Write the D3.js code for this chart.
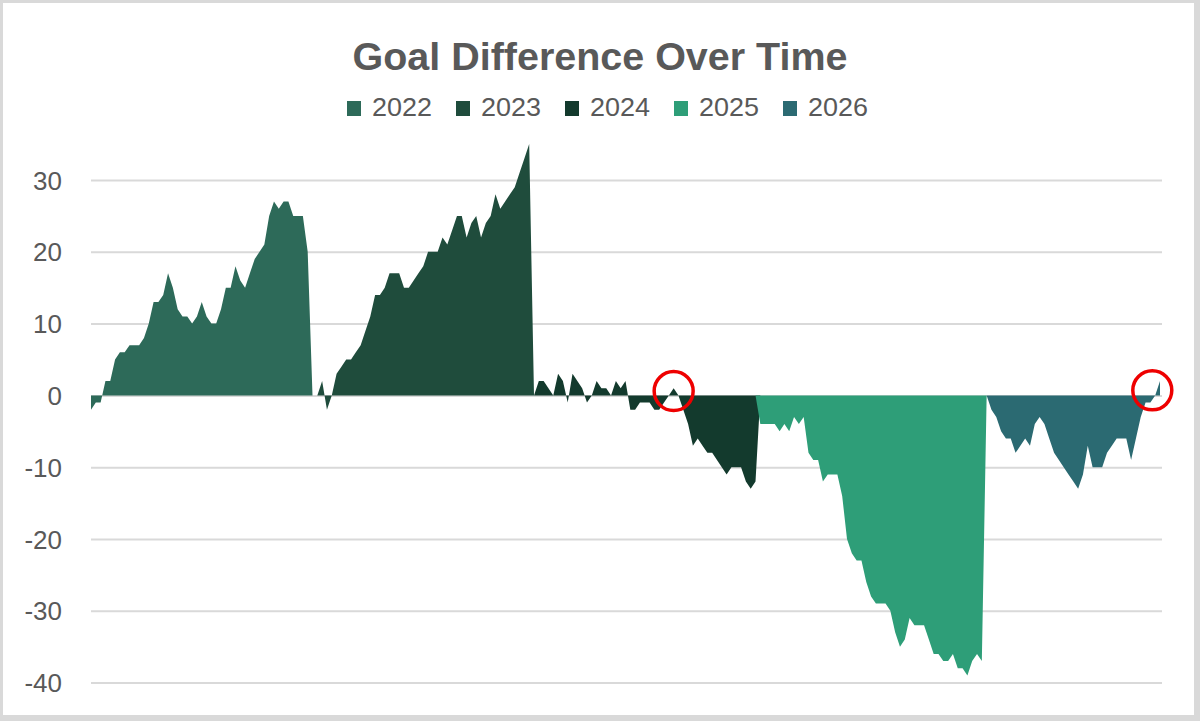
<!DOCTYPE html>
<html>
<head>
<meta charset="utf-8">
<title>Goal Difference Over Time</title>
<script src="https://cdn.jsdelivr.net/npm/d3@7"></script>
<style>
    body { margin: 0; background: #ffffff; }
    svg { display: block; }
    .axis text { font-family: "Liberation Sans", Arial, sans-serif; font-size: 26px; fill: #595959; }
    .axis line { stroke: #d9d9d9; stroke-width: 2; }
</style>
</head>
<body>
<div id="chart"></div>
<script>
// cumulative goal difference, one value per match, season by season
const seasons = ['2022', '2023', '2024', '2025', '2026'];

const gd2022 = [-2, -1, -1, 2, 2, 5, 6, 6, 7, 7, 7, 8, 10, 13, 13, 14, 17, 15, 12, 11, 11, 10, 11, 13, 11,
    10, 10, 12, 15, 15, 18, 16, 15, 17, 19, 20, 21, 25, 27, 26, 27, 27, 25, 25, 25, 20];
const gd2023 = [0, 0, 2, -2, 0, 3, 4, 5, 5, 6, 7, 9, 11, 14, 14, 15, 17, 17, 17, 15, 15, 16, 17, 18, 20,
    20, 20, 22, 21, 23, 25, 25, 22, 24, 25, 22, 24, 25, 28, 26, 27, 28, 29, 31, 33, 35];
const gd2024 = [0, 2, 2, 1, 0, 3, 2, -1, 3, 2, 1, -1, 0, 2, 1, 1, 0, 2, 1, 2, -2, -2, -1, -1, -1,
    -2, -2, -1, 0, 1, 0, -2, -4, -7, -6, -7, -8, -8, -9, -10, -11, -10, -10, -10, -12, -13, -12];
const gd2025 = [-4, -4, -4, -4, -5, -4, -5, -3, -4, -3, -8, -9, -9, -12, -11, -11, -11, -14, -20, -22,
    -23, -23, -26, -28, -29, -29, -29, -30, -33, -35, -34, -31, -32, -32, -32, -34, -36, -36, -37, -37,
    -36, -38, -38, -39, -37, -36, -37];
const gd2026 = [0, -2, -3, -5, -6, -6, -8, -7, -6, -7, -4, -3, -4, -6, -8, -9, -10, -11, -12, -13,
    -11, -7, -10, -10, -10, -8, -7, -6, -6, -6, -9, -6, -3, -1, -1, 0, 2];

const yTicks = [-40, -30, -20, -10, 0, 10, 20, 30];

// matches that are circled (match number, goal difference)
const highlights = [[121, 0.6], [220.4, 0.7]];

const colors = ['#2d6a59', '#1f4c3c', '#133a2d', '#2e9e78', '#2b6a72'];

const width = 1200, height = 721;

const seriesData = [gd2022, gd2023, gd2024, gd2025, gd2026];
const total = d3.sum(seriesData, s => s.length);

const svg = d3.select('#chart').append('svg')
    .attr('width', width)
    .attr('height', height);

// outer frame
svg.append('rect').attr('width', width).attr('height', height).attr('fill', '#d9d9d9');
svg.append('rect').attr('x', 3).attr('y', 3)
    .attr('width', width - 9).attr('height', height - 9).attr('fill', '#ffffff');

const xScale = d3.scaleLinear()
    .domain([0, total - 1])
    .range([91, 1160]);

const yScale = d3.scaleLinear()
    .domain([-40, 30])
    .range([682.6, 180]);

// gridlines + labels (plain hyphen for negatives, like the original)
const yAxis = d3.axisLeft(yScale)
    .tickValues(yTicks)
    .tickSizeInner(-(1162 - 91))
    .tickSizeOuter(0)
    .tickPadding(29)
    .tickFormat(d => String(d));

svg.append('g')
    .attr('class', 'axis y-axis')
    .attr('transform', 'translate(91,0)')
    .call(yAxis)
    .call(g => g.select('.domain').remove())
    .call(g => g.selectAll('text').attr('dy', '0.35em'));

// build each season with a zero on both sides, like blank cells in an area chart
const area = d3.area()
    .x(d => xScale(d.i))
    .y0(yScale(0))
    .y1(d => yScale(d.v));

let start = 0;
const series = seriesData.map((vals, k) => {
    const pts = vals.map((v, j) => ({ i: start + j, v: v }));
    if (start > 0) pts.unshift({ i: start - 1, v: 0 });
    const end = start + vals.length - 1;
    if (end < total - 1) pts.push({ i: end + 1, v: 0 });
    start += vals.length;
    return { name: seasons[k], color: colors[k], pts: pts };
});

svg.append('g')
    .selectAll('path')
    .data(series)
    .join('path')
    .attr('fill', d => d.color)
    .attr('d', d => area(d.pts));

// red circles
svg.append('g')
    .selectAll('circle')
    .data(highlights)
    .join('circle')
    .attr('cx', d => xScale(d[0]))
    .attr('cy', d => yScale(d[1]))
    .attr('r', 19.5)
    .attr('fill', 'none')
    .attr('stroke', '#ee0000')
    .attr('stroke-width', 3.5);

// title
svg.append('text')
    .attr('x', 600)
    .attr('y', 70)
    .attr('text-anchor', 'middle')
    .attr('textLength', 495)
    .attr('lengthAdjust', 'spacingAndGlyphs')
    .style('font-family', '"Liberation Sans", Arial, sans-serif')
    .style('font-weight', 'bold')
    .style('font-size', '39px')
    .style('fill', '#595959')
    .text('Goal Difference Over Time');

// legend
const legend = svg.append('g')
    .selectAll('g')
    .data(series)
    .join('g')
    .attr('transform', (d, k) => `translate(${347 + k * 109},0)`);

legend.append('rect')
    .attr('y', 101)
    .attr('width', 14)
    .attr('height', 15)
    .attr('fill', d => d.color);

legend.append('text')
    .attr('x', 25)
    .attr('y', 115.5)
    .attr('textLength', 60)
    .attr('lengthAdjust', 'spacingAndGlyphs')
    .style('font-family', '"Liberation Sans", Arial, sans-serif')
    .style('font-size', '26px')
    .style('fill', '#595959')
    .text(d => d.name);
</script>
</body>
</html>
